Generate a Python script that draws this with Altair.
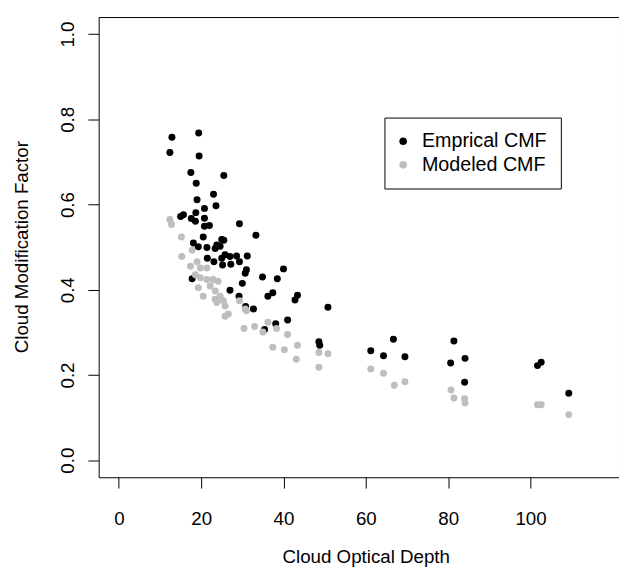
import altair as alt
import pandas as pd

# Empirical CMF (black points)
emp_x = [12.9, 19.4, 12.4, 19.5, 17.5, 25.5, 18.8, 23.0, 19.0, 23.6,
         20.8, 18.7, 15.0, 15.7, 20.8, 17.6, 18.6, 29.3, 20.8, 22.0,
         20.5, 25.0, 25.5, 33.3, 18.1, 19.3, 21.4, 23.4, 24.6, 23.8,
         21.5, 23.1, 25.0, 25.8, 27.0, 28.6, 31.2, 25.2, 27.2, 29.3,
         31.0, 30.7, 34.9, 40.0, 38.5, 30.0, 27.0, 37.4, 36.2, 43.4,
         42.8, 29.2, 32.7, 50.8, 41.0, 38.1, 35.4, 48.6, 48.8, 61.2,
         66.7, 64.3, 69.5, 81.4, 80.6, 84.1, 84.0, 101.7, 102.6, 109.3,
         17.8, 30.8]
emp_y = [0.758, 0.768, 0.722, 0.714, 0.675, 0.668, 0.650, 0.624, 0.611, 0.597,
         0.591, 0.581, 0.572, 0.576, 0.568, 0.567, 0.561, 0.555, 0.549, 0.551,
         0.524, 0.518, 0.516, 0.528, 0.510, 0.501, 0.499, 0.497, 0.502, 0.505,
         0.474, 0.466, 0.474, 0.482, 0.478, 0.479, 0.479, 0.458, 0.460, 0.466,
         0.447, 0.439, 0.430, 0.449, 0.426, 0.415, 0.399, 0.393, 0.385, 0.387,
         0.376, 0.385, 0.355, 0.359, 0.329, 0.320, 0.307, 0.278, 0.270, 0.257,
         0.284, 0.245, 0.243, 0.280, 0.228, 0.239, 0.183, 0.222, 0.230, 0.157,
         0.426, 0.361]

# Modeled CMF (grey points)
mod_x = [12.4, 12.8, 15.2, 15.3, 17.8, 19.0, 17.4, 19.8, 21.4, 18.6,
         19.8, 21.4, 22.9, 24.1, 19.3, 22.2, 20.5, 23.4, 24.6, 23.4,
         25.4, 23.8, 25.8, 26.6, 25.8, 29.3, 30.7, 31.0, 30.4, 33.0,
         35.0, 36.2, 38.3, 41.0, 43.4, 37.4, 40.2, 43.1, 48.6, 50.8,
         48.6, 61.2, 64.3, 66.9, 69.5, 80.7, 81.4, 84.0, 84.1, 101.7,
         102.6, 109.3]
mod_y = [0.565, 0.553, 0.524, 0.478, 0.493, 0.466, 0.455, 0.451, 0.451, 0.435,
         0.428, 0.424, 0.424, 0.420, 0.405, 0.409, 0.385, 0.397, 0.385, 0.378,
         0.374, 0.370, 0.362, 0.343, 0.338, 0.374, 0.355, 0.351, 0.309, 0.314,
         0.301, 0.324, 0.309, 0.295, 0.270, 0.265, 0.259, 0.237, 0.253, 0.250,
         0.218, 0.214, 0.204, 0.176, 0.184, 0.165, 0.146, 0.144, 0.134, 0.130,
         0.130, 0.107]

series_names = ["Emprical CMF", "Modeled CMF"]
series_colors = ["#000000", "#BEBEBE"]
x_ticks = [0, 20, 40, 60, 80, 100]
y_ticks = [0.0, 0.2, 0.4, 0.6, 0.8, 1.0]

df = pd.concat([
    pd.DataFrame({"depth": emp_x, "cmf": emp_y, "series": series_names[0], "ord": 0}),
    pd.DataFrame({"depth": mod_x, "cmf": mod_y, "series": series_names[1], "ord": 1}),
], ignore_index=True)

FONT = "Liberation Sans"
FS = 19

chart = alt.Chart(df).mark_circle(size=50, opacity=1).encode(
    x=alt.X("depth:Q",
            scale=alt.Scale(domain=[-4.9, 121.5], nice=False, zero=False),
            axis=alt.Axis(values=x_ticks, title="Cloud Optical Depth", format="d",
                          grid=False, domain=False, tickSize=11, tickColor="black",
                          labelFontSize=FS, labelColor="black", labelFont=FONT,
                          labelBaseline="alphabetic", labelPadding=37,
                          titleFontSize=FS, titleFontWeight="normal", titleFont=FONT,
                          titleColor="black", titleBaseline="alphabetic",
                          titleAlign="center", titleX=271, titleY=87)),
    y=alt.Y("cmf:Q",
            scale=alt.Scale(domain=[-0.04, 1.04], nice=False, zero=False),
            axis=alt.Axis(values=y_ticks, title="Cloud Modification Factor", format=".1f",
                          grid=False, domain=False, tickSize=11, tickColor="black",
                          labelFontSize=FS, labelColor="black", labelFont=FONT,
                          labelAngle=-90, labelAlign="center", labelBaseline="alphabetic",
                          labelPadding=15,
                          titleFontSize=FS, titleFontWeight="normal", titleFont=FONT,
                          titleColor="black", titleAngle=-90, titleBaseline="alphabetic",
                          titleAlign="center", titleX=-72, titleY=233)),
    color=alt.Color("series:N",
                    scale=alt.Scale(domain=series_names, range=series_colors),
                    legend=alt.Legend(title=None, orient="none", legendX=290, legendY=102,
                                      symbolType="circle", symbolSize=60,
                                      symbolOffset=-5,
                                      labelFontSize=20, labelFont=FONT, labelColor="black",
                                      strokeColor="black", padding=14, rowPadding=4,
                                      labelOffset=9, symbolStrokeWidth=0)),
    order=alt.Order("ord:Q"),
).properties(
    width=528, height=467,
    autosize=alt.AutoSizeParams(type="none"),
    padding={"left": 92, "top": 5, "right": 0, "bottom": 95},
).configure_view(
    stroke="black", strokeWidth=1
)

chart.save("out.html", embed_options={"renderer": "svg", "actions": False})
